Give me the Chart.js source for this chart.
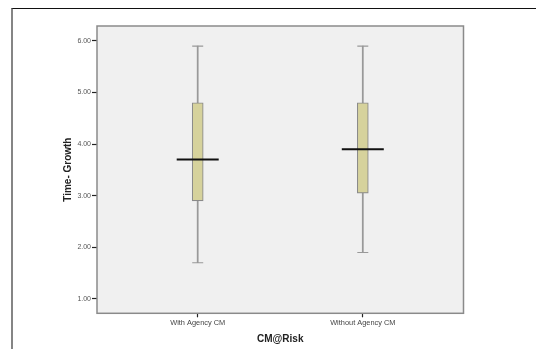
<!DOCTYPE html>
<html>
<head>
<meta charset="utf-8">
<script src="https://cdn.jsdelivr.net/npm/chart.js@4/dist/chart.umd.min.js"></script>
<style>
  html, body { margin:0; padding:0; background:#fff; }
  #wrap { position:relative; width:536px; height:349px; overflow:hidden; }
  #frame { position:absolute; left:11px; top:8px; width:700px; height:500px;
           border-top:1.5px solid #111; border-left:2px solid #858585; }
  canvas { position:absolute; left:0; top:0; }
</style>
</head>
<body>
<div id="wrap">
  <div id="frame"></div>
  <canvas id="chartCanvas" width="536" height="349"></canvas>
</div>
<script>
// box plot data
const CATEGORIES = ['With Agency CM', 'Without Agency CM'];
const X_POS = [1, 2];
const MIN = [1.7, 1.9];
const Q1 = [2.9, 3.05];
const MEDIAN = [3.7, 3.9];
const Q3 = [4.8, 4.8];
const MAX = [5.9, 5.9];
const Y_TICKS = [1, 2, 3, 4, 5, 6];

const FONT = "'Liberation Sans', Arial, sans-serif";
const GRAY = '#8a8a8a';

// plot background + frame around the chart area
const plotFrame = {
  id: 'plotFrame',
  beforeDatasetsDraw(chart){
    const {ctx, chartArea:a} = chart;
    ctx.save();
    ctx.fillStyle = '#f0f0f0';
    ctx.fillRect(a.left, a.top, a.right-a.left, a.bottom-a.top);
    ctx.restore();
  },
  afterDraw(chart){
    const {ctx, chartArea:a} = chart;
    ctx.save();
    ctx.strokeStyle = GRAY;
    ctx.lineWidth = 1.5;
    ctx.strokeRect(a.left, a.top, a.right-a.left, a.bottom-a.top);
    ctx.restore();
  }
};

const datasets = [
  { type:'scatter', label:'median', order:0,
    data: X_POS.map((x,i)=>({x, y:MEDIAN[i]})),
    pointStyle:'line', pointRadius:21, pointBorderColor:'#111', pointBorderWidth:2 },
  { type:'scatter', label:'caps', order:1,
    data: X_POS.map((x,i)=>({x, y:MIN[i]})).concat(X_POS.map((x,i)=>({x, y:MAX[i]}))),
    pointStyle:'line', pointRadius:5.5, pointBorderColor:'#999', pointBorderWidth:1.1 },
  { type:'bar', label:'box', order:2, grouped:false,
    data: X_POS.map((x,i)=>({x, y:[Q1[i], Q3[i]]})),
    barThickness:11, backgroundColor:'#d6d29c', borderColor:GRAY, borderWidth:1.1, borderSkipped:false },
  { type:'bar', label:'whisker', order:3, grouped:false,
    data: X_POS.map((x,i)=>({x, y:[MIN[i], MAX[i]]})),
    barThickness:1.1, backgroundColor:'#999', borderWidth:0 }
];

new Chart(document.getElementById('chartCanvas').getContext('2d'), {
  type:'bar',
  data:{ datasets },
  plugins:[plotFrame],
  options:{
    responsive:false,
    animation:false,
    events:[],
    layout:{ padding:{ left:62, top:26, right:72.5, bottom:3.8 } },
    plugins:{ legend:{display:false}, tooltip:{enabled:false} },
    scales:{
      x:{
        type:'linear', min:0.39, max:2.61, offset:false,
        border:{display:false},
        grid:{ display:true, offset:false, drawOnChartArea:false, drawTicks:true,
               tickLength:4, tickColor:'#222', tickWidth:1.2 },
        afterBuildTicks: s => { s.ticks = X_POS.map(v=>({value:v})); },
        afterFit: s => { s.height = 31.9; },
        ticks:{ autoSkip:false, maxRotation:0, padding:1, color:'#444',
                font:{family:FONT, size:7.4},
                callback: v => CATEGORIES[X_POS.indexOf(v)] },
        title:{ display:true, text:'CM@Risk', color:'#222', padding:0,
                font:{family:FONT, size:10, weight:'bold'} }
      },
      y:{
        type:'linear', min:0.72, max:6.29,
        border:{display:false},
        grid:{ display:true, drawOnChartArea:false, drawTicks:true,
               tickLength:5, tickColor:'#222', tickWidth:1.2 },
        afterBuildTicks: s => { s.ticks = Y_TICKS.map(v=>({value:v})); },
        afterFit: s => { s.width = 35; },
        ticks:{ padding:1, color:'#555', font:{family:FONT, size:7},
                callback: v => Number(v).toFixed(2) },
        title:{ display:true, text:'Time- Growth', color:'#222', padding:0,
                font:{family:FONT, size:10, weight:'bold'} }
      }
    }
  }
});
</script>
</body>
</html>
